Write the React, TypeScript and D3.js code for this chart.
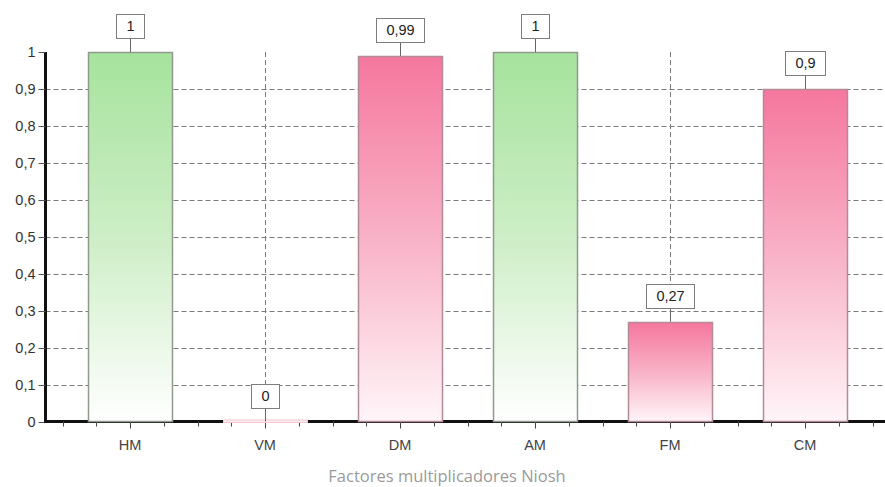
import React from "react";
import * as d3 from "d3";

const categories = ["HM", "VM", "DM", "AM", "FM", "CM"];
const values = [1, 0, 0.99, 1, 0.27, 0.9];
const valueLabels = ["1", "0", "0,99", "1", "0,27", "0,9"];
const yTicks = [0, 0.1, 0.2, 0.3, 0.4, 0.5, 0.6, 0.7, 0.8, 0.9, 1];
const xTitle = "Factores multiplicadores Niosh";

const W = 885;
const H = 487;
const axisX = 45.5;
const axisY = 421.5;
const top = 52;
const right = 885;
const FS = 14.5;

function textWidth(s: string, fs: number) {
  let w = 0;
  for (const ch of s) w += ch === "," || ch === "." ? 0.278 : 0.556;
  return w * fs;
}

export default function App() {
  const y = d3.scaleLinear().domain([0, 1]).range([axisY, top]);
  const x = d3
    .scaleBand<string>()
    .domain(categories)
    .range([62.5, 872.5])
    .paddingInner(0.378)
    .paddingOuter(0.189);
  const step = x.step();
  const first = x.range()[0];
  const minor = d3.range(0, 25).map((k) => first + (k * step) / 4);
  const fmt = (v: number) => String(Math.round(v * 10) / 10).replace(".", ",");
  const font = "'Liberation Sans', Arial, sans-serif";

  return (
    <svg
      width={W}
      height={H}
      style={{ position: "absolute", left: 0, top: 0, background: "#fff" }}
    >
      <defs>
        <linearGradient id="gGreen" x1="0" y1="0" x2="0" y2="1">
          <stop offset="0" stopColor="#a6e39d" />
          <stop offset="0.5" stopColor="#cdeec6" />
          <stop offset="1" stopColor="#ffffff" />
        </linearGradient>
        <linearGradient id="gPink" x1="0" y1="0" x2="0" y2="1">
          <stop offset="0" stopColor="#f5779e" />
          <stop offset="0.5" stopColor="#f8b2c7" />
          <stop offset="1" stopColor="#fff5f8" />
        </linearGradient>
      </defs>
      {/* horizontal grid */}
      {yTicks
        .filter((t) => t > 0 && t < 1)
        .map((t) => (
          <line
            key={"hg" + t}
            x1={axisX}
            x2={right}
            y1={Math.round(y(t)) + 0.5}
            y2={Math.round(y(t)) + 0.5}
            stroke="#7a7a7a"
            strokeDasharray="5,3"
          />
        ))}
      {/* vertical grid */}
      {categories.map((c) => (
        <line
          key={"vg" + c}
          x1={Math.round(x(c)! + x.bandwidth() / 2) + 0.5}
          x2={Math.round(x(c)! + x.bandwidth() / 2) + 0.5}
          y1={top}
          y2={axisY}
          stroke="#7a7a7a"
          strokeDasharray="5,3"
        />
      ))}
      {/* y axis */}
      <line x1={axisX} x2={axisX} y1={top} y2={axisY + 1.5} stroke="#111" strokeWidth={3} />
      {yTicks.map((t) => (
        <g key={"yt" + t}>
          <line
            x1={axisX - 7}
            x2={axisX}
            y1={Math.round(y(t)) + 0.5}
            y2={Math.round(y(t)) + 0.5}
            stroke="#555"
          />
          <text
            x={axisX - 10}
            y={y(t)}
            dy="0.35em"
            textAnchor="end"
            fontFamily={font}
            fontSize={FS}
            fill="#333"
          >
            {fmt(t)}
          </text>
        </g>
      ))}
      {/* x axis */}
      <line x1={axisX - 1.5} x2={right} y1={axisY} y2={axisY} stroke="#111" strokeWidth={3} />
      {minor.map((m, i) => (
        <line
          key={"mt" + i}
          x1={Math.round(m) + 0.5}
          x2={Math.round(m) + 0.5}
          y1={axisY}
          y2={axisY + (i % 4 === 2 ? 7 : 5)}
          stroke="#444"
        />
      ))}
      {/* bars */}
      {categories.map((c, i) => {
        const v = values[i];
        const green = v >= 1;
        const bx = Math.round(x(c)!) + 0.5;
        const by = Math.round(y(v)) + 0.5;
        const bh = axisY - by;
        if (bh <= 0) {
          return (
            <rect
              key={"b" + c}
              x={bx}
              y={axisY - 1.5}
              width={Math.round(x.bandwidth())}
              height={2.5}
              fill="#fdeef2"
              stroke="#f2c6d2"
              strokeWidth={1}
            />
          );
        }
        return (
          <rect
            key={"b" + c}
            x={bx}
            y={by}
            width={Math.round(x.bandwidth())}
            height={bh}
            fill={green ? "url(#gGreen)" : "url(#gPink)"}
            stroke={green ? "#8f9a8c" : "#b38a98"}
            strokeWidth={1.5}
          />
        );
      })}
      {/* value labels */}
      {categories.map((c, i) => {
        const v = values[i];
        const cx = Math.round(x(c)! + x.bandwidth() / 2) + 0.5;
        const by = y(v);
        const label = valueLabels[i];
        const w = textWidth(label, FS) + 20;
        const bh = 24;
        const bottom = by - 14;
        return (
          <g key={"l" + c}>
            <line x1={cx} x2={cx} y1={bottom} y2={by} stroke="#666" />
            <rect
              x={Math.round(cx - w / 2) + 0.5}
              y={Math.round(bottom - bh) + 0.5}
              width={Math.round(w)}
              height={bh}
              fill="#fff"
              stroke="#7d7d7d"
            />
            <text
              x={cx}
              y={bottom - bh / 2}
              dy="0.36em"
              textAnchor="middle"
              fontFamily={font}
              fontSize={FS}
              fill="#222"
            >
              {label}
            </text>
          </g>
        );
      })}
      {/* x labels */}
      {categories.map((c) => (
        <text
          key={"xl" + c}
          x={x(c)! + x.bandwidth() / 2}
          y={445}
          dy="0.35em"
          textAnchor="middle"
          fontFamily={font}
          fontSize={FS}
          fill="#444"
        >
          {c}
        </text>
      ))}
      <text
        x={447}
        y={476}
        dy="0.35em"
        textAnchor="middle"
        fontFamily="'Open Sans', sans-serif"
        fontSize={16.5}
        fill="#9a9a9a"
      >
        {xTitle}
      </text>
    </svg>
  );
}
